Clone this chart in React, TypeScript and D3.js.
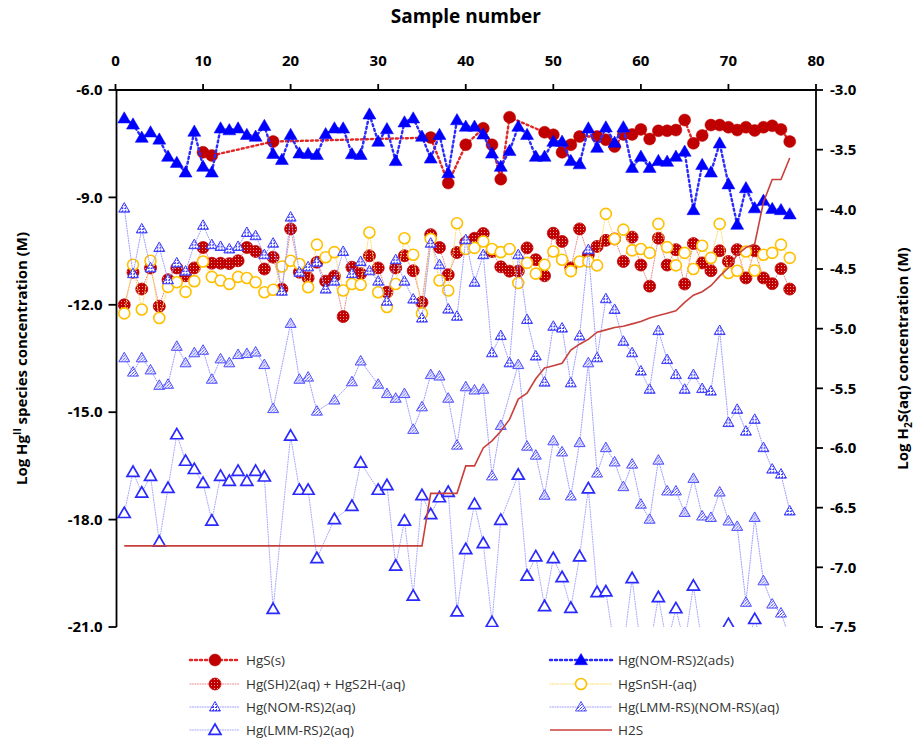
import React from 'react';
import * as d3 from 'd3';

// ---------- DATA (index 0 = sample 1) ----------
const sampleNumbers = Array.from({ length: 77 }, (_, i) => i + 1);

const hgsS: (number | null)[] = [
  null, null, null, null, null, null, null, null, null, -7.74,
  -7.83, null, null, null, null, null, null, -7.44, null, null,
  null, null, null, null, null, null, null, null, null, null,
  null, null, null, null, null, -7.33, null, -8.60, null, -7.53,
  null, -7.07, -7.53, -8.49, -6.76, null, null, null, -7.18, -7.25,
  -7.74, -7.53, -7.30, null, -7.30, -7.39, -7.58, -7.24, -7.24, -7.10,
  -7.37, -7.14, -7.14, -7.12, -6.84, -7.49, -7.27, -6.98, -6.98, -7.04,
  -7.12, -7.04, -7.13, -7.04, -7.00, -7.10, -7.44,
];

const nomAds: (number | null)[] = [
  -6.79, -6.96, -7.33, -7.18, -7.38, -7.86, -8.03, -8.30, -7.16, -8.14,
  -8.30, -7.07, -7.12, -7.07, -7.25, -7.30, -7.00, -7.78, -7.95, -7.25,
  -7.77, -7.78, -7.81, -7.23, -7.07, -7.07, -7.79, -7.81, -6.68, -7.44,
  -7.09, -7.98, -6.90, -6.79, -7.30, -7.91, -7.25, -8.32, -6.84, -7.02,
  -7.02, -7.24, -7.77, -8.14, -7.70, -7.02, -7.25, -7.86, -7.86, -7.44,
  -7.44, -7.98, -8.07, -7.07, -7.61, -7.04, -7.47, -7.04, -8.17, -7.86,
  -8.17, -7.98, -8.00, -7.86, -7.72, -9.35, -8.09, -8.30, -7.49, -8.63,
  -9.76, -8.74, -9.30, -9.09, -9.32, -9.35, -9.47,
];

const hgSH2: (number | null)[] = [
  -12.00, -11.09, -11.56, -10.97, -12.04, -11.30, -10.97, -11.19, -10.97, -10.40,
  -10.84, -10.84, -10.85, -10.77, -10.40, -10.51, -11.00, -10.67, -11.56, -9.88,
  -11.09, -11.25, -10.81, -11.34, -11.20, -12.33, -10.95, -11.13, -10.63, -10.97,
  -11.65, -10.97, -10.63, -11.05, -11.93, -10.04, -10.40, -11.16, -10.54, -10.26,
  -10.14, -10.01, -10.51, -10.94, -11.06, -11.06, -10.41, -10.74, -11.19, -10.00,
  -10.23, -10.97, -9.88, -10.60, -10.37, -10.20, -10.16, -10.79, -10.11, -10.89,
  -11.48, -10.14, -10.89, -10.46, -11.42, -10.29, -10.83, -11.05, -10.49, -10.79,
  -10.46, -11.25, -10.49, -11.25, -11.41, -10.99, -11.56,
];

const hgSnSH: (number | null)[] = [
  -12.24, -10.88, -12.13, -10.77, -12.37, -11.50, -11.37, -11.64, -11.34, -10.79,
  -11.22, -11.32, -11.42, -11.22, -11.25, -11.37, -11.65, -11.58, -10.93, -10.77,
  -10.86, -11.51, -10.32, -10.67, -10.53, -11.60, -11.42, -11.44, -9.98, -11.65,
  -12.06, -11.42, -10.14, -10.60, -12.24, -10.16, -11.32, -11.60, -9.72, -10.44,
  -10.41, -10.23, -10.44, -10.53, -10.44, -11.39, -10.83, -11.13, -10.88, -10.51,
  -10.74, -11.06, -10.79, -10.79, -10.90, -9.46, -10.16, -9.90, -10.48, -10.44,
  -10.55, -9.74, -10.39, -10.90, -10.55, -11.00, -10.35, -10.69, -9.74, -11.11,
  -11.05, -10.51, -11.04, -10.60, -10.55, -10.32, -10.69,
];

const nomAq: (number | null)[] = [
  -9.30, -11.13, -9.88, -10.97, -10.40, -11.30, -10.83, -11.06, -10.32, -9.78,
  -10.32, -10.37, -10.44, -10.37, -9.98, -10.07, -10.60, -10.28, -11.62, -9.55,
  -11.09, -10.94, -10.81, -11.56, -11.34, -10.51, -11.13, -10.79, -11.05, -11.34,
  -11.90, -10.74, -11.34, -11.84, -12.37, -10.28, -10.88, -12.12, -12.32, -10.18,
  -11.37, -10.60, -13.34, -12.86, -13.62, -10.60, -12.41, -13.43, -14.16, -12.60,
  -12.65, -14.18, -12.87, -10.46, -13.48, -11.83, -12.13, -13.02, -13.34, -13.85,
  -14.36, -12.72, -13.53, -13.95, -14.36, -13.95, -14.34, -14.41, -12.72, -15.29,
  -14.92, -15.53, -15.20, -15.99, -16.59, -16.73, -17.76,
];

const lmmNom: (number | null)[] = [
  -13.48, -13.88, -13.48, -13.82, -14.25, -14.22, -13.16, -13.62, -13.34, -13.27,
  -14.08, -13.51, -13.62, -13.39, -13.36, -13.32, -13.67, -14.90, null, -12.52,
  -14.08, -14.02, -14.97, null, -14.66, null, -14.15, -13.57, null, -14.22,
  -14.48, -14.61, -14.48, -15.48, -14.85, -13.95, -13.99, -14.61, -15.92, -14.29,
  -14.38, -14.36, -16.78, -15.37, null, -13.67, -15.95, -16.20, -17.32, -15.80,
  -16.11, -17.34, -15.85, -13.62, -16.70, -15.99, -16.39, -17.08, -16.45, -17.57,
  -17.99, -16.34, -17.20, -17.20, -17.80, -16.85, -17.90, -17.94, -17.23, -18.04,
  -18.19, -20.31, -17.94, -19.71, -20.36, -20.61, -21.30,
];

const lmm2: (number | null)[] = [
  -17.82, -16.67, -17.25, -16.78, -18.62, -17.12, -15.62, -16.36, -16.59, -16.98,
  -18.03, -16.78, -16.92, -16.64, -16.92, -16.64, -16.80, -20.50, null, -15.66,
  -17.17, -17.17, -19.08, null, -17.99, null, -17.62, -16.41, null, -17.17,
  -17.04, -19.29, -18.03, -20.13, -17.32, -17.85, -17.38, -17.23, -20.57, -18.83,
  -17.57, -18.66, -20.87, -18.01, null, -16.75, -19.57, -19.03, -20.42, -19.08,
  -19.61, -20.47, -19.03, -17.13, -20.03, -20.01, -21.60, -21.60, -19.64, -21.60,
  -21.60, -20.17, -21.50, -20.48, -21.50, -19.85, -21.50, -21.60, -21.60, -20.92,
  -21.60, -21.60, -20.78, -21.60, -21.60, -21.60, -21.60,
];

const h2s: (number | null)[] = [
  -6.82, -6.82, -6.82, -6.82, -6.82, -6.82, -6.82, -6.82, -6.82, -6.82,
  -6.82, -6.82, -6.82, -6.82, -6.82, -6.82, -6.82, -6.82, -6.82, -6.82,
  -6.82, -6.82, -6.82, -6.82, -6.82, -6.82, -6.82, -6.82, -6.82, -6.82,
  -6.82, -6.82, -6.82, -6.82, -6.82, -6.38, -6.38, -6.38, -6.38, -6.15,
  -6.15, -6.00, -5.94, -5.86, -5.76, -5.59, -5.54, -5.42, -5.33, -5.31,
  -5.29, -5.18, -5.13, -5.09, -5.03, -5.01, -4.99, -4.98, -4.96, -4.94,
  -4.91, -4.89, -4.87, -4.85, -4.78, -4.72, -4.69, -4.64, -4.56, -4.49,
  -4.38, -4.32, -4.29, -3.94, -3.75, -3.75, -3.57,
];

const xTicks = [0, 10, 20, 30, 40, 50, 60, 70, 80];
const leftTicks = [-6, -9, -12, -15, -18, -21];
const rightTicks = [-3, -3.5, -4, -4.5, -5, -5.5, -6, -6.5, -7, -7.5];

// ---------- LAYOUT ----------
const W = 915, H = 740;
const PX0 = 115.5, PX1 = 816, PY0 = 90, PY1 = 627;
const x = d3.scaleLinear().domain([0, 80]).range([PX0, PX1]);
const yL = d3.scaleLinear().domain([-21, -6]).range([PY1, PY0]);
const yR = d3.scaleLinear().domain([-7.5, -3]).range([PY1, PY0]);

type Marker = 'circle' | 'tri' | 'none';
interface Series {
  name: string;
  data: (number | null)[];
  right?: boolean;
  stroke: string;
  width: number;
  dash?: string;
  marker: Marker;
  size: number;
  fill: string;
  mStroke: string;
  mWidth: number;
}

const series: Series[] = [
  { name: 'HgS(s)', data: hgsS, stroke: '#e32626', width: 2.4, dash: '2 3', marker: 'circle', size: 6, fill: '#c00000', mStroke: '#c00000', mWidth: 0.5 },
  { name: 'Hg(NOM-RS)2(ads)', data: nomAds, stroke: '#2b2bff', width: 2.4, dash: '2 3', marker: 'tri', size: 13, fill: '#0000ff', mStroke: '#0000ff', mWidth: 0.5 },
  { name: 'Hg(SH)2(aq) + HgS2H-(aq)', data: hgSH2, stroke: '#e88a8a', width: 1, dash: '1 1.5', marker: 'circle', size: 6, fill: 'url(#redDots)', mStroke: '#c00000', mWidth: 0.8 },
  { name: 'HgSnSH-(aq)', data: hgSnSH, stroke: '#ffd966', width: 1, dash: '1 1.5', marker: 'circle', size: 5.5, fill: '#ffffff', mStroke: '#ffc000', mWidth: 1.6 },
  { name: 'Hg(NOM-RS)2(aq)', data: nomAq, stroke: '#9a9aff', width: 1, dash: '1 1.5', marker: 'tri', size: 11, fill: 'url(#blueDots)', mStroke: '#3a3aff', mWidth: 1 },
  { name: 'Hg(LMM-RS)(NOM-RS)(aq)', data: lmmNom, stroke: '#9a9aff', width: 1, dash: '1 1.5', marker: 'tri', size: 11, fill: 'url(#blueDots2)', mStroke: '#5050ff', mWidth: 1 },
  { name: 'Hg(LMM-RS)2(aq)', data: lmm2, stroke: '#a5a5ff', width: 1, dash: '1 1.5', marker: 'tri', size: 12, fill: '#ffffff', mStroke: '#2a2aff', mWidth: 1.7 },
  { name: 'H2S', data: h2s, right: true, stroke: '#c8403c', width: 1.6, marker: 'none', size: 0, fill: 'none', mStroke: 'none', mWidth: 0 },
];

const triPath = (s: number) => {
  const h = s * Math.sqrt(3) / 2;
  return `M0,${-h * 0.58}L${s / 2},${h * 0.42}L${-s / 2},${h * 0.42}Z`;
};

function MarkerShape({ s, cx, cy }: { s: Series; cx: number; cy: number }) {
  if (s.marker === 'circle') {
    return <circle cx={cx} cy={cy} r={s.size} fill={s.fill} stroke={s.mStroke} strokeWidth={s.mWidth} />;
  }
  if (s.marker === 'tri') {
    return <path d={triPath(s.size)} transform={`translate(${cx},${cy})`} fill={s.fill} stroke={s.mStroke} strokeWidth={s.mWidth} strokeLinejoin="miter" />;
  }
  return null;
}

const FONT = '"Open Sans", "Noto Sans", Arial, sans-serif';

export default function App() {
  const pts = (s: Series) =>
    s.data
      .map((v, i) => (v == null ? null : [x(sampleNumbers[i]), (s.right ? yR : yL)(v)] as [number, number]))
      .filter((p): p is [number, number] => p !== null);

  const lineGen = d3.line<[number, number]>().x(d => d[0]).y(d => d[1]);

  const legendRows = [
    [series[0], series[1]],
    [series[2], series[3]],
    [series[4], series[5]],
    [series[6], series[7]],
  ];
  const legY = [660, 684, 707, 730];

  return (
    <svg width={W} height={H} style={{ position: 'absolute', left: 0, top: 0, background: '#fff' }} fontFamily={FONT}>
      <defs>
        <clipPath id="plotClip">
          <rect x={PX0} y={PY0} width={PX1 - PX0} height={PY1 - PY0} />
        </clipPath>
        <pattern id="redDots" width="3" height="3" patternUnits="userSpaceOnUse">
          <rect width="3" height="3" fill="#c00000" />
          <rect x="1" y="1" width="1" height="1" fill="#f2a0a0" />
        </pattern>
        <pattern id="blueDots" width="3" height="3" patternUnits="userSpaceOnUse">
          <rect width="3" height="3" fill="#ffffff" />
          <rect x="0" y="0" width="2" height="1" fill="#3030ff" />
          <rect x="1" y="2" width="1" height="1" fill="#3030ff" />
        </pattern>
        <pattern id="blueDots2" width="3" height="3" patternUnits="userSpaceOnUse">
          <rect width="3" height="3" fill="#ffffff" />
          <rect x="0" y="0" width="1" height="1" fill="#3a3aff" />
          <rect x="2" y="1" width="1" height="1" fill="#3a3aff" />
          <rect x="1" y="2" width="1" height="1" fill="#8080ff" />
        </pattern>
      </defs>
      <rect width={W} height={H} fill="#fff" />

      {/* series */}
      <g clipPath="url(#plotClip)">
        {series.map((s, si) => {
          const p = pts(s);
          return (
            <g key={si}>
              <path d={lineGen(p) || ''} fill="none" stroke={s.stroke} strokeWidth={s.width} strokeDasharray={s.dash} strokeLinecap={s.dash ? 'round' : 'butt'} />
              {s.marker !== 'none' && p.map((q, i) => <MarkerShape key={i} s={s} cx={q[0]} cy={q[1]} />)}
            </g>
          );
        })}
      </g>

      {/* axes */}
      <line x1={PX0 + 1} y1={PY0} x2={PX0 + 1} y2={PY1} stroke="#000" strokeWidth={1.8} />
      <line x1={PX1} y1={PY0} x2={PX1} y2={PY1} stroke="#000" strokeWidth={1.8} />
      <line x1={PX0} y1={PY0} x2={PX1} y2={PY0} stroke="#000" strokeWidth={1.8} />
      {leftTicks.map(t => (
        <g key={'l' + t}>
          <line x1={PX0 - 7} x2={PX0 + 1} y1={yL(t)} y2={yL(t)} stroke="#000" strokeWidth={1.8} />
          <text x={PX0 - 13} y={yL(t)} dy="0.35em" textAnchor="end" fontSize={15} fontWeight={700} fill="#000">{t.toFixed(1)}</text>
        </g>
      ))}
      {rightTicks.map(t => (
        <g key={'r' + t}>
          <line x1={PX1} x2={PX1 + 7} y1={yR(t)} y2={yR(t)} stroke="#000" strokeWidth={1.8} />
          <text x={PX1 + 14} y={yR(t)} dy="0.35em" textAnchor="start" fontSize={15} fontWeight={700} fill="#000">{t.toFixed(1)}</text>
        </g>
      ))}
      {xTicks.map(t => (
        <g key={'x' + t}>
          <line x1={x(t)} x2={x(t)} y1={PY0 - 6} y2={PY0} stroke="#000" strokeWidth={1.8} />
          <text x={x(t)} y={PY0 - 24} textAnchor="middle" fontSize={15} fontWeight={700} fill="#000">{t}</text>
        </g>
      ))}

      {/* titles */}
      <text x={(PX0 + PX1) / 2} y={23} textAnchor="middle" fontSize={19} fontWeight={700} fill="#000">Sample number</text>
      <text transform={`translate(27,${(PY0 + PY1) / 2}) rotate(-90)`} textAnchor="middle" fontSize={15} fontWeight={700} fill="#000">
        Log Hg<tspan dy="-6" fontSize={10}>II</tspan><tspan dy="6"> species concentration (M)</tspan>
      </text>
      <text transform={`translate(908,${(PY0 + PY1) / 2}) rotate(-90)`} textAnchor="middle" fontSize={15} fontWeight={700} fill="#000">
        Log H<tspan dy="4" fontSize={10}>2</tspan><tspan dy="-4">S(aq) concentration (M)</tspan>
      </text>

      {/* legend */}
      {legendRows.map((row, ri) => (
        <g key={'lg' + ri}>
          {row.map((s, ci) => {
            const lx0 = ci === 0 ? 190 : 550;
            const lx1 = ci === 0 ? 240 : 612;
            const cy = legY[ri];
            return (
              <g key={ci}>
                <line x1={lx0} x2={lx1} y1={cy} y2={cy} stroke={s.stroke} strokeWidth={s.width} strokeDasharray={s.dash} strokeLinecap={s.dash ? 'round' : 'butt'} />
                {s.marker !== 'none' && <MarkerShape s={s} cx={(lx0 + lx1) / 2} cy={cy} />}
                <text x={lx1 + 6} y={cy} dy="0.35em" fontSize={13.5} fill="#333">{s.name}</text>
              </g>
            );
          })}
        </g>
      ))}
    </svg>
  );
}
